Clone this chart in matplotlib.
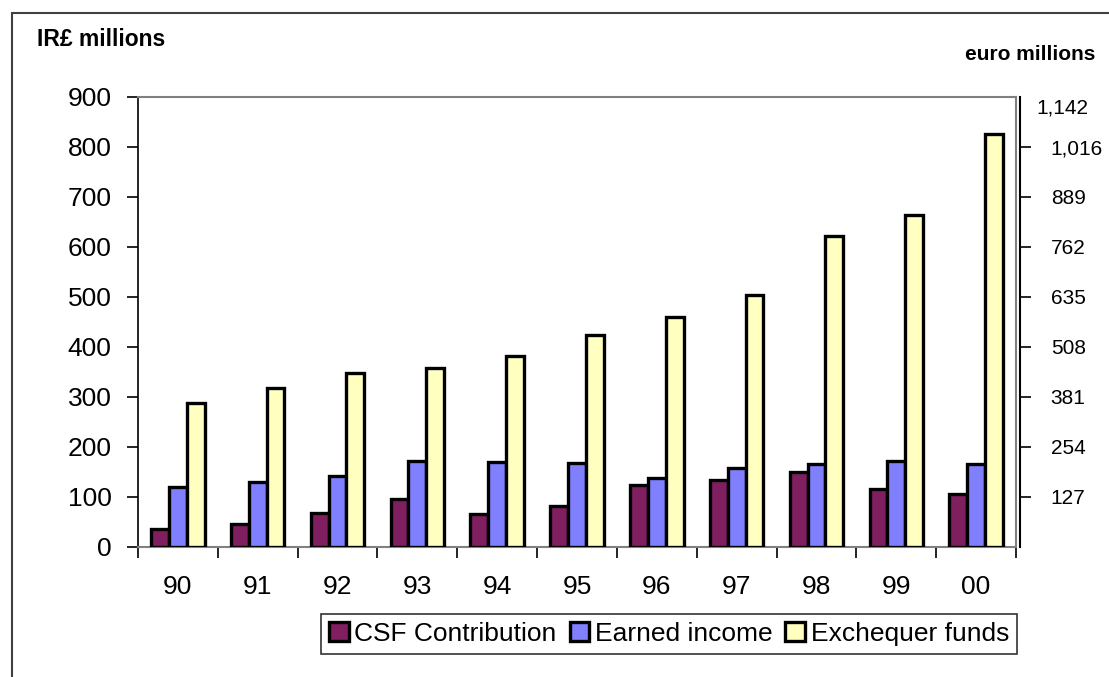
import numpy as np
import matplotlib.pyplot as plt
from matplotlib.patches import Rectangle

plt.rcParams['font.family'] = ['Liberation Sans', 'DejaVu Sans']

# Datos (IR£ millones)
years = ["90", "91", "92", "93", "94", "95", "96", "97", "98", "99", "00"]
csf = [36, 46, 69, 96, 67, 82, 124, 134, 151, 117, 107]
earned = [120, 131, 143, 173, 171, 169, 139, 159, 166, 172, 167]
exchequer = [288, 319, 348, 358, 383, 424, 460, 504, 623, 665, 826]

series = ["CSF Contribution", "Earned income", "Exchequer funds"]
colors = ["#7f1f5f", "#8080ff", "#ffffc0"]

# Eje secundario en euros (1 euro = 0.787564 IR£)
left_ticks = [0, 100, 200, 300, 400, 500, 600, 700, 800, 900]
euro_ticks = [100, 200, 300, 400, 500, 600, 700, 800]
euro_labels = ["127", "254", "381", "508", "635", "762", "889", "1,016"]
euro_top = "1,142"

fig = plt.figure(figsize=(11.09, 6.77), dpi=100)
fig.patches.append(Rectangle((12 / 1109, -0.1), 1.1, 1 - 13 / 677 + 0.1,
                             transform=fig.transFigure, fill=False,
                             edgecolor="#404040", linewidth=1.5))

ax = fig.add_axes([138 / 1109, 130 / 677, 878 / 1109, 450 / 677])

x = np.arange(len(years))
w = 0.223
for i, (vals, c, name) in enumerate(zip([csf, earned, exchequer], colors, series)):
    ax.bar(x + (i - 1) * w, vals, width=w, color=c, edgecolor="black",
           linewidth=2.4, label=name, zorder=3)

ax.set_xlim(-0.5, len(years) - 0.5)
ax.set_ylim(0, 900)
ax.set_yticks(left_ticks)
ax.tick_params(axis="y", labelsize=19, length=8, width=1.2, pad=11, direction="out")

# ticks del eje x en los límites de cada grupo, etiquetas al centro
ax.set_xticks(np.arange(len(years) + 1) - 0.5)
ax.set_xticklabels([])
ax.set_xticks(x, minor=True)
ax.set_xticklabels(years, minor=True)
ax.tick_params(axis="x", which="major", length=8, width=1.2, direction="out")
ax.tick_params(axis="x", which="minor", length=0, labelsize=19, pad=20)

for s in ["top", "right", "bottom"]:
    ax.spines[s].set_color("#808080")
    ax.spines[s].set_linewidth(1.5)
ax.spines["left"].set_color("black")
ax.spines["left"].set_linewidth(1.2)

ax2 = ax.twinx()
ax2.set_ylim(0, 900)
ax2.set_yticks(euro_ticks)
ax2.set_yticklabels(euro_labels)
ax2.tick_params(axis="y", labelsize=15, length=8, width=1.2, pad=14)
ax2.spines["right"].set_position(("outward", 3))
ax2.spines["right"].set_linewidth(1.5)
ax2.spines["right"].set_bounds(0, 900)
for s in ["top", "left", "bottom"]:
    ax2.spines[s].set_visible(False)
ax2.text(1 + 20 / 878, 878, euro_top, transform=ax2.get_yaxis_transform(),
         ha="left", va="center", fontsize=15)

fig.text(37 / 1109, 1 - 40 / 677, "IR£ millions", fontsize=16.5,
         fontweight="bold", ha="left", va="center")
fig.text(1095 / 1109, 1 - 55 / 677, "euro millions", fontsize=15,
         fontweight="bold", ha="right", va="center")

leg = fig.legend(loc="center", bbox_to_anchor=(669 / 1109, 1 - 634 / 677),
                 ncol=3, fontsize=19, frameon=True, fancybox=False,
                 edgecolor="black", handlelength=0.75, handleheight=0.75,
                 handletextpad=0.2, columnspacing=0.5, borderpad=0.3,
                 borderaxespad=0)
leg.get_frame().set_linewidth(1.2)

fig.savefig("out.png", dpi=100)
